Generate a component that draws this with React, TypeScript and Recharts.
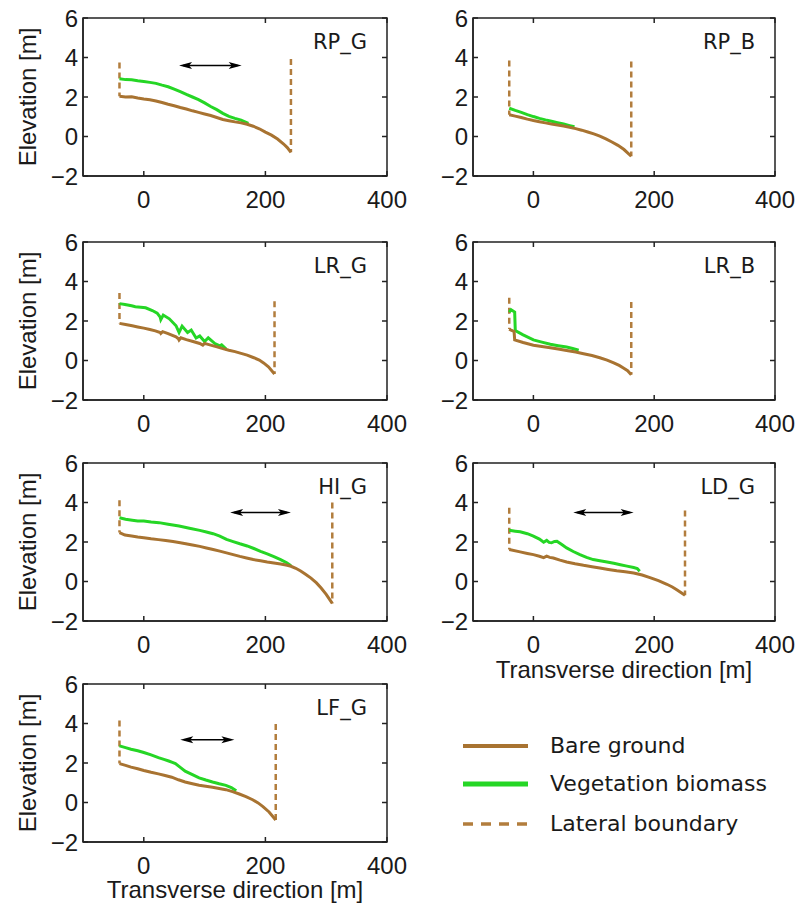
import React from 'react';
import { LineChart, Line, XAxis, YAxis, ReferenceLine, ReferenceDot, ReferenceArea } from 'recharts';

const BROWN = '#a87331';
const GREEN = '#25d625';
const DASH = '#b27d3d';
const INK = '#1a1a1a';
const AXIS = '#222222';
const AXIS_W = 1.5;
const AXIS_FONT = '"Liberation Sans", Arial, sans-serif';
const NAME_FONT = '"DejaVu Sans", sans-serif';

type Pt = [number, number];

const X_TICKS = [0, 200, 400];
const Y_TICKS = [-2, 0, 2, 4, 6];

// RP_G
const RP_G_BARE: Pt[] = [[-40, 2.04], [-30, 2.0], [-20, 2.01], [-10, 1.95], [0, 1.9], [10, 1.86], [20, 1.8], [30, 1.72], [40, 1.63], [50, 1.56], [60, 1.47], [70, 1.39], [80, 1.3], [90, 1.22], [100, 1.14], [110, 1.06], [120, 0.96], [130, 0.86], [140, 0.8], [150, 0.74], [160, 0.69], [170, 0.62], [180, 0.52], [190, 0.39], [200, 0.22], [210, 0.07], [220, -0.13], [230, -0.38], [236, -0.56], [242, -0.8]];
const RP_G_VEG: Pt[] = [[-40, 2.92], [-30, 2.88], [-20, 2.87], [-10, 2.82], [0, 2.78], [10, 2.74], [20, 2.69], [30, 2.6], [40, 2.52], [50, 2.4], [60, 2.27], [70, 2.13], [80, 2.0], [90, 1.87], [100, 1.7], [110, 1.52], [120, 1.36], [130, 1.17], [140, 1.02], [150, 0.92], [160, 0.83], [172, 0.66]];
const RP_G_BOUNDS: [number, number, number][] = [[-40, 3.75, 2.04], [242, 3.92, -0.8]];
const RP_G_ARROW: [number, number, number] = [58, 161, 3.6];

// RP_B
const RP_B_BARE: Pt[] = [[-40, 1.1], [-30, 1.03], [-20, 0.96], [-10, 0.88], [0, 0.81], [10, 0.75], [20, 0.69], [30, 0.63], [40, 0.58], [50, 0.53], [60, 0.47], [70, 0.4], [80, 0.32], [90, 0.23], [100, 0.13], [110, 0.02], [120, -0.12], [130, -0.28], [140, -0.45], [150, -0.66], [162, -1.0]];
const RP_B_VEG: Pt[] = [[-40, 1.43], [-30, 1.32], [-20, 1.22], [-10, 1.11], [0, 1.01], [10, 0.92], [20, 0.84], [30, 0.77], [40, 0.7], [50, 0.63], [60, 0.55], [68, 0.49]];
const RP_B_BOUNDS: [number, number, number][] = [[-40, 3.85, 1.1], [162, 3.8, -1.0]];

// LR_G
const LR_G_BARE: Pt[] = [[-40, 1.88], [-30, 1.82], [-19, 1.76], [-10, 1.7], [0, 1.64], [10, 1.57], [19, 1.5], [27, 1.42], [28, 1.37], [31, 1.46], [40, 1.36], [53, 1.2], [57, 1.1], [58, 1.04], [61, 1.15], [70, 1.06], [81, 0.96], [92, 0.86], [97, 0.78], [100, 0.87], [110, 0.78], [119, 0.7], [130, 0.6], [140, 0.52], [150, 0.45], [160, 0.36], [170, 0.27], [181, 0.14], [190, 0.02], [197, -0.12], [205, -0.32], [215, -0.68]];
const LR_G_VEG: Pt[] = [[-40, 2.88], [-31, 2.84], [-20, 2.77], [-14, 2.72], [-5, 2.7], [3, 2.67], [14, 2.53], [22, 2.4], [27, 2.2], [28, 2.07], [32, 2.3], [42, 2.11], [53, 1.76], [58, 1.42], [63, 1.74], [72, 1.42], [78, 1.54], [86, 1.14], [92, 1.24], [100, 0.96], [106, 1.15], [117, 0.86], [125, 0.74], [128, 0.79], [136, 0.56]];
const LR_G_BOUNDS: [number, number, number][] = [[-40, 3.42, 1.88], [215, 3.0, -0.68]];

// LR_B
const LR_B_BARE: Pt[] = [[-40, 1.59], [-36, 1.52], [-32, 1.47], [-31, 1.04], [-17, 0.91], [0, 0.77], [14, 0.71], [28, 0.65], [41, 0.58], [55, 0.51], [70, 0.43], [83, 0.34], [97, 0.25], [110, 0.14], [122, 0.02], [133, -0.12], [142, -0.25], [149, -0.38], [156, -0.52], [162, -0.72]];
const LR_B_VEG: Pt[] = [[-40, 2.45], [-37, 2.57], [-31, 2.45], [-30, 1.51], [-17, 1.3], [0, 1.04], [14, 0.93], [28, 0.82], [41, 0.75], [55, 0.68], [65, 0.61], [75, 0.52]];
const LR_B_BOUNDS: [number, number, number][] = [[-40, 3.18, 1.59], [162, 2.96, -0.72]];

// HI_G
const HI_G_BARE: Pt[] = [[-40, 2.48], [-31, 2.35], [-20, 2.3], [-10, 2.25], [0, 2.21], [12, 2.16], [24, 2.12], [36, 2.08], [48, 2.02], [60, 1.96], [69, 1.91], [80, 1.85], [92, 1.78], [103, 1.7], [114, 1.62], [125, 1.54], [136, 1.45], [147, 1.36], [158, 1.27], [169, 1.19], [180, 1.11], [192, 1.05], [203, 0.99], [214, 0.94], [225, 0.89], [236, 0.82], [242, 0.77], [250, 0.67], [258, 0.53], [266, 0.37], [275, 0.17], [284, -0.07], [292, -0.34], [300, -0.65], [310, -1.11]];
const HI_G_VEG: Pt[] = [[-40, 3.23], [-30, 3.15], [-19, 3.1], [-10, 3.06], [0, 3.06], [12, 3.01], [25, 2.98], [40, 2.9], [58, 2.81], [75, 2.7], [92, 2.59], [103, 2.51], [114, 2.42], [125, 2.3], [136, 2.13], [147, 2.02], [158, 1.91], [170, 1.8], [181, 1.67], [192, 1.53], [203, 1.4], [214, 1.26], [225, 1.11], [235, 0.95], [242, 0.8]];
const HI_G_BOUNDS: [number, number, number][] = [[-40, 4.12, 2.48], [310, 4.0, -1.11]];
const HI_G_ARROW: [number, number, number] = [142, 242, 3.49];

// LD_G
const LD_G_BARE: Pt[] = [[-40, 1.62], [-22, 1.5], [-10, 1.42], [0, 1.36], [10, 1.28], [17, 1.21], [22, 1.28], [27, 1.22], [33, 1.19], [44, 1.08], [55, 0.99], [69, 0.9], [83, 0.82], [97, 0.75], [110, 0.68], [124, 0.61], [138, 0.54], [152, 0.49], [166, 0.43], [180, 0.33], [193, 0.2], [207, 0.04], [221, -0.14], [230, -0.28], [238, -0.43], [251, -0.7]];
const LD_G_VEG: Pt[] = [[-40, 2.59], [-30, 2.55], [-22, 2.52], [-10, 2.42], [0, 2.3], [10, 2.15], [17, 1.99], [22, 2.08], [26, 1.98], [30, 1.96], [35, 2.03], [39, 2.04], [47, 1.87], [55, 1.7], [66, 1.52], [77, 1.36], [88, 1.22], [99, 1.11], [110, 1.05], [122, 0.99], [133, 0.92], [144, 0.85], [155, 0.78], [166, 0.71], [172, 0.66], [176, 0.52]];
const LD_G_BOUNDS: [number, number, number][] = [[-40, 3.74, 1.62], [251, 3.6, -0.7]];
const LD_G_ARROW: [number, number, number] = [66, 166, 3.49];

// LF_G
const LF_G_BARE: Pt[] = [[-40, 1.97], [-30, 1.88], [-21, 1.79], [-10, 1.71], [0, 1.62], [12, 1.53], [24, 1.45], [35, 1.37], [46, 1.28], [57, 1.15], [68, 1.04], [80, 0.95], [91, 0.87], [102, 0.82], [113, 0.77], [124, 0.71], [135, 0.65], [146, 0.55], [157, 0.43], [168, 0.3], [179, 0.14], [188, -0.02], [196, -0.21], [206, -0.48], [217, -0.89]];
const LF_G_VEG: Pt[] = [[-40, 2.87], [-30, 2.78], [-21, 2.7], [-10, 2.62], [0, 2.53], [12, 2.41], [24, 2.27], [33, 2.18], [41, 2.1], [47, 2.03], [52, 1.97], [60, 1.78], [68, 1.59], [80, 1.41], [91, 1.25], [102, 1.14], [113, 1.04], [124, 0.95], [135, 0.87], [144, 0.76], [152, 0.6]];
const LF_G_BOUNDS: [number, number, number][] = [[-40, 4.15, 1.97], [217, 3.98, -0.89]];
const LF_G_ARROW: [number, number, number] = [60, 149, 3.18];

const LEGEND_ITEMS = ['Bare ground', 'Vegetation biomass', 'Lateral boundary'];

interface Panel {
  name: string;
  bare: Pt[];
  veg: Pt[];
  bounds: [number, number, number][];
  arrow?: [number, number, number];
  col: number;
  row: number;
  xLabelGap?: number;
}

const PANELS: Panel[] = [
  { name: 'RP_G', bare: RP_G_BARE, veg: RP_G_VEG, bounds: RP_G_BOUNDS, arrow: RP_G_ARROW, col: 0, row: 0 },
  { name: 'RP_B', bare: RP_B_BARE, veg: RP_B_VEG, bounds: RP_B_BOUNDS, col: 1, row: 0 },
  { name: 'LR_G', bare: LR_G_BARE, veg: LR_G_VEG, bounds: LR_G_BOUNDS, col: 0, row: 1 },
  { name: 'LR_B', bare: LR_B_BARE, veg: LR_B_VEG, bounds: LR_B_BOUNDS, col: 1, row: 1 },
  { name: 'HI_G', bare: HI_G_BARE, veg: HI_G_VEG, bounds: HI_G_BOUNDS, arrow: HI_G_ARROW, col: 0, row: 2 },
  { name: 'LD_G', bare: LD_G_BARE, veg: LD_G_VEG, bounds: LD_G_BOUNDS, arrow: LD_G_ARROW, col: 1, row: 2, xLabelGap: 57 },
  { name: 'LF_G', bare: LF_G_BARE, veg: LF_G_VEG, bounds: LF_G_BOUNDS, arrow: LF_G_ARROW, col: 0, row: 3, xLabelGap: 56 },
];

const PLOT_TOPS = [18, 242, 463, 684];
const PLOT_H = 158;
const X_AXIS_H = 66;
const Y_AXIS_W = 60;
const TOP_PAD = 20;
const X_GAP = 15; // axis line to top of x tick label
const Y_GAP = 5;  // axis line to right edge of y tick label
const TICK_LEN = 5;

const toPoints = (pts: Pt[]) => pts.map(([x, y]) => ({ x, y }));
const fmtY = (v: number) => (v < 0 ? `\u2212${Math.abs(v)}` : `${v}`);

// ticks point inwards on all four sides of the box, like the original figure
function XTick(props: any) {
  const { x, y, payload } = props;
  const axisY = y - X_GAP;
  const topY = axisY - PLOT_H;
  return (
    <g>
      <line x1={x} x2={x} y1={axisY} y2={axisY - TICK_LEN} stroke={AXIS} strokeWidth={AXIS_W} />
      <line x1={x} x2={x} y1={topY} y2={topY + TICK_LEN} stroke={AXIS} strokeWidth={AXIS_W} />
      <text x={x} y={y} dy="0.72em" textAnchor="middle" fontSize={24} fill={INK} fontFamily={AXIS_FONT}>
        {payload.value}
      </text>
    </g>
  );
}

function YTick(props: any) {
  const { x, y, payload, plotW } = props;
  const axisX = x + Y_GAP;
  const rightX = axisX + plotW;
  return (
    <g>
      <line x1={axisX} x2={axisX + TICK_LEN} y1={y} y2={y} stroke={AXIS} strokeWidth={AXIS_W} />
      <line x1={rightX} x2={rightX - TICK_LEN} y1={y} y2={y} stroke={AXIS} strokeWidth={AXIS_W} />
      <text x={x} y={y} dy="0.36em" textAnchor="end" fontSize={24} fill={INK} fontFamily={AXIS_FONT}>
        {fmtY(payload.value)}
      </text>
    </g>
  );
}

function DoubleArrow(props: any) {
  const { x1, x2, y1 } = props;
  const len = 13;
  const half = 3.5;
  return (
    <g>
      <line x1={x1 + 4} y1={y1} x2={x2 - 4} y2={y1} stroke="#000" strokeWidth={1.5} />
      <polygon points={`${x1},${y1} ${x1 + len},${y1 - half} ${x1 + len - 3},${y1} ${x1 + len},${y1 + half}`} fill="#000" />
      <polygon points={`${x2},${y1} ${x2 - len},${y1 - half} ${x2 - len + 3},${y1} ${x2 - len},${y1 + half}`} fill="#000" />
    </g>
  );
}

function ProfilePanel({ p }: { p: Panel }) {
  const left = p.col === 0 ? 0 : 400;
  const width = p.col === 0 ? 420 : 398;
  const margin = p.col === 0
    ? { top: TOP_PAD, right: 33, left: 23, bottom: 0 }
    : { top: TOP_PAD, right: 23, left: 13, bottom: 0 };
  const plotW = width - margin.left - margin.right - Y_AXIS_W;
  const labelStyle = { fontSize: 24, fill: INK, fontFamily: AXIS_FONT };

  return (
    <div style={{ position: 'absolute', left, top: PLOT_TOPS[p.row] - TOP_PAD }}>
      <LineChart width={width} height={TOP_PAD + PLOT_H + X_AXIS_H} margin={margin}>
        <XAxis
          type="number"
          dataKey="x"
          domain={[-100, 400]}
          ticks={X_TICKS}
          allowDataOverflow
          height={X_AXIS_H}
          tickSize={0}
          tickMargin={X_GAP}
          tickLine={false}
          axisLine={{ stroke: AXIS, strokeWidth: AXIS_W }}
          tick={(tp: any) => <XTick {...tp} />}
          label={p.xLabelGap ? {
            value: 'Transverse direction [m]',
            position: 'insideBottom',
            offset: X_AXIS_H - p.xLabelGap,
            style: labelStyle,
          } : undefined}
        />
        <YAxis
          type="number"
          domain={[-2, 6]}
          ticks={Y_TICKS}
          allowDataOverflow
          width={Y_AXIS_W}
          tickSize={0}
          tickMargin={Y_GAP}
          tickLine={false}
          axisLine={{ stroke: AXIS, strokeWidth: AXIS_W }}
          tick={(tp: any) => <YTick {...tp} plotW={plotW} />}
          label={p.col === 0 ? {
            value: 'Elevation [m]',
            angle: -90,
            position: 'insideLeft',
            offset: 4,
            style: { ...labelStyle, textAnchor: 'middle' },
          } : undefined}
        />
        <ReferenceArea
          x1={-100}
          x2={400}
          y1={-2}
          y2={6}
          fill="none"
          fillOpacity={0}
          stroke={AXIS}
          strokeWidth={AXIS_W}
          strokeOpacity={1}
          ifOverflow="visible"
        />
        {p.bounds.map(([x, top, bottom], i) => (
          <ReferenceLine
            key={`b${i}`}
            segment={[{ x, y: top }, { x, y: bottom }]}
            stroke={DASH}
            strokeWidth={2.5}
            strokeDasharray="6 4"
          />
        ))}
        <Line
          data={toPoints(p.veg)}
          dataKey="y"
          type="linear"
          stroke={GREEN}
          strokeWidth={3}
          dot={false}
          isAnimationActive={false}
        />
        <Line
          data={toPoints(p.bare)}
          dataKey="y"
          type="linear"
          stroke={BROWN}
          strokeWidth={3}
          dot={false}
          isAnimationActive={false}
        />
        {p.arrow && (
          <ReferenceLine
            segment={[{ x: p.arrow[0], y: p.arrow[2] }, { x: p.arrow[1], y: p.arrow[2] }]}
            shape={(props: any) => <DoubleArrow {...props} />}
          />
        )}
        <ReferenceDot
          x={367}
          y={4.45}
          r={0}
          shape={(props: any) => (
            <text x={props.cx} y={props.cy} textAnchor="end" fontSize={21} fill={INK} fontFamily={NAME_FONT}>
              {p.name}
            </text>
          )}
        />
      </LineChart>
    </div>
  );
}

function LegendBox() {
  const rows = [21, 59, 99];
  return (
    <svg width={340} height={125} style={{ position: 'absolute', left: 450, top: 725 }}>
      <line x1={13} x2={78} y1={rows[0]} y2={rows[0]} stroke={BROWN} strokeWidth={4} />
      <line x1={13} x2={78} y1={rows[1]} y2={rows[1]} stroke={GREEN} strokeWidth={5} />
      <line x1={13} x2={78} y1={rows[2]} y2={rows[2]} stroke={DASH} strokeWidth={3.5} strokeDasharray="10 8" />
      {LEGEND_ITEMS.map((label, i) => (
        <text key={label} x={100} y={rows[i] + 6.5} fontSize={22} fill={INK} fontFamily={NAME_FONT}>
          {label}
        </text>
      ))}
    </svg>
  );
}

export default function App() {
  return (
    <div style={{ position: 'absolute', left: 0, top: 0, width: 798, height: 903, background: '#fff', overflow: 'hidden' }}>
      {PANELS.map((p) => (
        <ProfilePanel key={p.name} p={p} />
      ))}
      <LegendBox />
    </div>
  );
}
